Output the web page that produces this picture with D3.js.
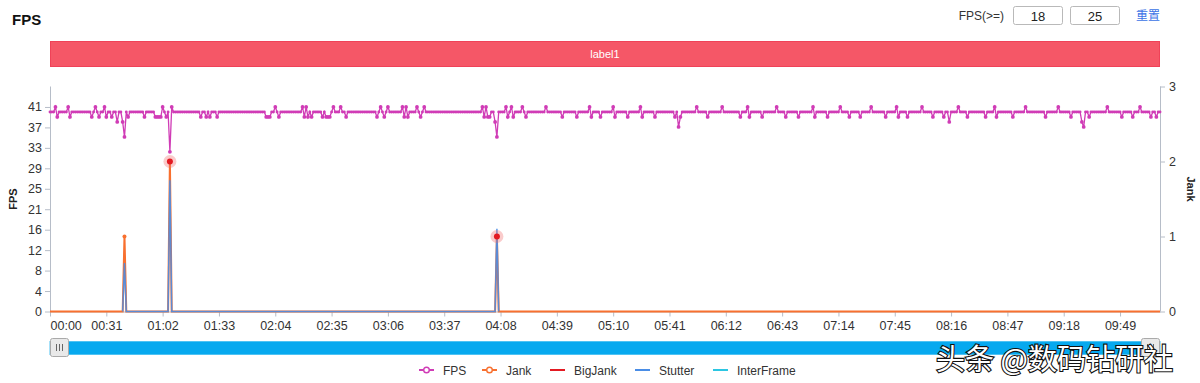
<!DOCTYPE html>
<html><head><meta charset="utf-8">
<script src="https://cdn.jsdelivr.net/npm/d3@7"></script>
<style>
body{margin:0;background:#fff;}
svg{font-family:"Liberation Sans",Arial,"Noto Sans",sans-serif;}
</style></head><body>
<svg id="c" width="1200" height="383"></svg>
<script>
// ---- data (one sample per second) ----
const fps = [
40,40,40,41,39,40,40,40,40,40,41,39,40,40,40,40,40,40,40,40,40,40,40,39,40,41,40,39,40,40,41,39,40,40,
39,40,40,38,40,40,38,35,40,39,40,40,40,40,40,40,40,40,39,40,40,40,40,40,39,39,39,39,41,40,39,40,32,41,
40,40,40,40,40,40,40,40,40,40,40,40,40,40,40,39,40,40,39,40,39,40,40,40,39,40,40,40,40,40,40,40,40,40,
40,40,40,40,40,40,40,40,40,40,40,40,40,40,40,40,40,39,39,39,40,40,41,40,39,40,40,40,40,40,40,40,40,40,
40,40,40,41,39,41,39,40,39,40,40,40,40,40,39,40,39,39,39,40,41,40,40,40,41,40,40,39,40,40,40,40,40,40,
40,40,40,40,40,40,40,40,40,40,39,40,41,40,39,40,41,40,40,40,40,40,40,40,41,39,41,39,40,40,40,40,41,40,
39,40,41,40,40,40,40,40,40,40,40,40,40,40,40,40,40,40,40,40,40,40,40,40,40,40,40,40,40,40,40,40,40,40,
41,39,41,39,39,40,40,38,35,40,40,40,40,41,39,40,41,39,40,40,40,40,41,40,39,40,40,40,40,40,40,40,40,40,
40,41,40,40,40,40,40,40,40,40,39,40,40,40,40,40,40,40,39,40,40,40,40,40,40,41,39,40,40,40,40,39,40,40,
40,40,40,40,41,39,40,40,40,40,40,40,39,40,40,40,40,40,40,41,39,40,40,40,40,40,40,39,40,40,40,40,40,40,
40,40,40,40,39,40,37,39,40,40,40,40,40,40,40,40,41,40,40,40,40,40,39,40,40,40,40,40,40,40,41,40,40,40,
40,40,40,40,40,40,39,40,40,40,41,39,40,40,40,40,40,40,39,40,40,40,40,40,40,40,41,40,40,40,40,39,40,40,
40,40,40,40,39,40,40,40,40,40,40,40,41,39,40,40,40,40,40,40,39,40,40,40,40,40,40,41,40,40,40,40,39,40,
40,40,40,40,39,40,40,40,40,40,41,40,40,40,40,40,40,40,39,40,40,40,40,40,41,39,40,40,40,40,39,40,40,40,
40,40,40,40,41,40,40,40,40,40,39,40,40,40,40,40,39,40,40,38,40,40,40,40,41,40,40,40,40,39,40,40,40,40,
40,40,40,40,40,39,40,40,40,40,41,39,40,40,40,40,40,40,40,40,39,40,40,40,40,40,40,41,40,40,40,40,40,40,
40,40,40,40,39,40,40,40,40,40,40,41,40,40,40,40,40,40,39,40,40,40,40,40,38,37,40,40,39,40,40,40,40,40,
40,40,40,40,41,40,40,40,40,40,40,40,39,40,40,40,40,40,39,40,40,40,41,40,40,40,40,40,39,40,40,39,40,40
];
const jank = [
0,0,0,0,0,0,0,0,0,0,0,0,0,0,0,0,0,0,0,0,0,0,0,0,0,0,0,0,0,0,0,0,0,0,
0,0,0,0,0,0,0,1,0,0,0,0,0,0,0,0,0,0,0,0,0,0,0,0,0,0,0,0,0,0,0,0,2,0,
0,0,0,0,0,0,0,0,0,0,0,0,0,0,0,0,0,0,0,0,0,0,0,0,0,0,0,0,0,0,0,0,0,0,
0,0,0,0,0,0,0,0,0,0,0,0,0,0,0,0,0,0,0,0,0,0,0,0,0,0,0,0,0,0,0,0,0,0,
0,0,0,0,0,0,0,0,0,0,0,0,0,0,0,0,0,0,0,0,0,0,0,0,0,0,0,0,0,0,0,0,0,0,
0,0,0,0,0,0,0,0,0,0,0,0,0,0,0,0,0,0,0,0,0,0,0,0,0,0,0,0,0,0,0,0,0,0,
0,0,0,0,0,0,0,0,0,0,0,0,0,0,0,0,0,0,0,0,0,0,0,0,0,0,0,0,0,0,0,0,0,0,
0,0,0,0,0,0,0,0,1,0,0,0,0,0,0,0,0,0,0,0,0,0,0,0,0,0,0,0,0,0,0,0,0,0,
0,0,0,0,0,0,0,0,0,0,0,0,0,0,0,0,0,0,0,0,0,0,0,0,0,0,0,0,0,0,0,0,0,0,
0,0,0,0,0,0,0,0,0,0,0,0,0,0,0,0,0,0,0,0,0,0,0,0,0,0,0,0,0,0,0,0,0,0,
0,0,0,0,0,0,0,0,0,0,0,0,0,0,0,0,0,0,0,0,0,0,0,0,0,0,0,0,0,0,0,0,0,0,
0,0,0,0,0,0,0,0,0,0,0,0,0,0,0,0,0,0,0,0,0,0,0,0,0,0,0,0,0,0,0,0,0,0,
0,0,0,0,0,0,0,0,0,0,0,0,0,0,0,0,0,0,0,0,0,0,0,0,0,0,0,0,0,0,0,0,0,0,
0,0,0,0,0,0,0,0,0,0,0,0,0,0,0,0,0,0,0,0,0,0,0,0,0,0,0,0,0,0,0,0,0,0,
0,0,0,0,0,0,0,0,0,0,0,0,0,0,0,0,0,0,0,0,0,0,0,0,0,0,0,0,0,0,0,0,0,0,
0,0,0,0,0,0,0,0,0,0,0,0,0,0,0,0,0,0,0,0,0,0,0,0,0,0,0,0,0,0,0,0,0,0,
0,0,0,0,0,0,0,0,0,0,0,0,0,0,0,0,0,0,0,0,0,0,0,0,0,0,0,0,0,0,0,0,0,0,
0,0,0,0,0,0,0,0,0,0,0,0,0,0,0,0,0,0,0,0,0,0,0,0,0,0,0,0,0,0,0,0,0,0
];
// sparse series: [second, value]
const bigJank = [[66,2],[246,1]];
const stutter = [[40,0],[41,9.7],[42,0],[65,0],[66,26.3],[67,0],[245,0],[246,16.6],[247,0]];
const interFrame = [];
const fpsTicks = [0,4.1,8.2,12.3,16.4,20.5,24.6,28.7,32.8,36.9,41];
const jankTicks = [0,1,2,3];
const timeTickStep = 31;
const seriesNames = ["FPS","Jank","BigJank","Stutter","InterFrame"];
const colors = {FPS:"#d03cb6",Jank:"#f8702f",BigJank:"#e31a22",Stutter:"#4a8de6",InterFrame:"#2cc6e2"};
const thresholds = ["18","25"];
const barLabel = "label1";

// ---- layout ----
const svg = d3.select("#c");
const L = 50, R = 1160, T = 86.5, B = 311.5;
const x = d3.scaleLinear().domain([0, fps.length-1]).range([L, R]);
const yL = d3.scaleLinear().domain([0, 45.1]).range([B, T]);
const yR = d3.scaleLinear().domain([0, 3]).range([B, T]);
const fmt = s => String(Math.floor(s/60)).padStart(2,"0")+":"+String(s%60).padStart(2,"0");

// title
svg.append("text").attr("x",12).attr("y",25).attr("font-size",15).attr("font-weight",600).attr("fill","#111").text("FPS");
// controls
svg.append("text").attr("x",1004).attr("y",20).attr("text-anchor","end").attr("font-size",12).attr("fill","#333").text("FPS(>=)");
thresholds.forEach((t,i)=>{
  const bx = 1013 + i*57;
  svg.append("rect").attr("x",bx+0.5).attr("y",6.5).attr("width",49).attr("height",18).attr("rx",2).attr("fill","#fff").attr("stroke","#b9b9b9");
  svg.append("text").attr("x",bx+25).attr("y",20.5).attr("text-anchor","middle").attr("font-size",13).attr("fill","#222").text(t);
});
svg.append("text").attr("x",1148).attr("y",20).attr("text-anchor","middle").attr("font-size",12).attr("fill","#3b73e6").attr("font-family","Noto Sans CJK SC").text("重置");

// label bar
svg.append("rect").attr("x",L+0.5).attr("y",41.5).attr("width",R-L-1).attr("height",25).attr("fill","#f55767").attr("stroke","#ef4258");
svg.append("text").attr("x",(L+R)/2).attr("y",58).attr("text-anchor","middle").attr("font-size",11).attr("fill","#fff").text(barLabel);

// axes
const axCol = "#b6bdc8", txtCol = "#333";
const gL = svg.append("g").attr("transform",`translate(${L},0)`)
  .call(d3.axisLeft(yL).tickValues(fpsTicks).tickFormat(d=>Math.round(d)).tickSize(5).tickSizeOuter(0));
const gR = svg.append("g").attr("transform",`translate(${R},0)`)
  .call(d3.axisRight(yR).tickValues(jankTicks).tickFormat(d3.format("d")).tickSize(5).tickSizeOuter(0));
const gX = svg.append("g").attr("transform",`translate(0,${B})`)
  .call(d3.axisBottom(x).tickValues(d3.range(0, fps.length, timeTickStep)).tickFormat(fmt).tickSize(5).tickSizeOuter(0));
[gL,gR,gX].forEach(g=>{
  g.select(".domain").attr("stroke",axCol);
  g.selectAll(".tick line").attr("stroke",axCol);
  g.selectAll(".tick text").attr("fill",txtCol).attr("font-size",12.5).attr("font-family","Liberation Sans, Arial, sans-serif");
});
gL.select(".domain").attr("d",`M0.5,${T}V${B}`);
gR.select(".domain").attr("d",`M0.5,${T}V${B}`);
gL.selectAll(".tick text").attr("x",-8);
gR.selectAll(".tick text").attr("x",9);
gX.selectAll(".tick text").attr("y",10);
gX.selectAll(".tick text").filter(d=>d===0).attr("text-anchor","start").attr("x",0);
svg.append("text").attr("transform",`translate(17,${(T+B)/2}) rotate(-90)`).attr("text-anchor","middle").attr("font-size",11).attr("font-weight",600).attr("fill","#222").text("FPS");
svg.append("text").attr("transform",`translate(1187,${(T+B)/2 - 10}) rotate(90)`).attr("text-anchor","middle").attr("font-size",11).attr("font-weight",600).attr("fill","#222").text("Jank");

// series
const lineIdx = (sc) => d3.line().x((d,i)=>x(i)).y(d=>sc(d));
const plot = svg.append("g");
// jank (right axis)
plot.append("path").datum(jank).attr("d",lineIdx(yR)).attr("fill","none").attr("stroke",colors.Jank).attr("stroke-width",2);
plot.selectAll(".jd").data(jank.map((v,i)=>[i,v]).filter(d=>d[1]>0)).enter().append("circle")
  .attr("cx",d=>x(d[0])).attr("cy",d=>yR(d[1])).attr("r",2).attr("fill",colors.Jank);
// stutter (left axis)
plot.append("path").datum(stutter).attr("d",d3.line().x(d=>x(d[0])).y(d=>yL(d[1]))).attr("fill","none").attr("stroke",colors.Stutter).attr("stroke-width",1.5).attr("opacity",0.9);
// big jank markers
bigJank.forEach(d=>{
  plot.append("circle").attr("cx",x(d[0])).attr("cy",yR(d[1])).attr("r",6.5).attr("fill","#f06a6a").attr("opacity",0.35);
  plot.append("circle").attr("cx",x(d[0])).attr("cy",yR(d[1])).attr("r",3).attr("fill",colors.BigJank);
});
// fps (left axis)
plot.append("path").datum(fps).attr("d",lineIdx(yL)).attr("fill","none").attr("stroke",colors.FPS).attr("stroke-width",1.3);
plot.selectAll(".fd").data(fps).enter().append("circle")
  .attr("cx",(d,i)=>x(i)).attr("cy",d=>yL(d)).attr("r",d=>d===40?1.45:1.9).attr("fill",colors.FPS);

// slider
svg.append("rect").attr("x",L).attr("y",341.5).attr("width",R-L).attr("height",13).attr("fill","#07a9ef").attr("stroke","#4fc3f3");
[[L,0],[R-19,1]].forEach(([hx])=>{
  svg.append("rect").attr("x",hx+0.5).attr("y",338.5).attr("width",18).attr("height",18).attr("rx",2).attr("fill","#e9e9e9").attr("stroke","#aaa");
  [6,9,12].forEach(o=>svg.append("line").attr("x1",hx+o+0.5).attr("x2",hx+o+0.5).attr("y1",344).attr("y2",351).attr("stroke","#666"));
});

// legend
const legX = [419,482,550,635,713];
seriesNames.forEach((n,i)=>{
  const lx = legX[i], ly = 370;
  svg.append("line").attr("x1",lx).attr("x2",lx+15).attr("y1",ly).attr("y2",ly).attr("stroke",colors[n]).attr("stroke-width",2);
  if(i<2) svg.append("circle").attr("cx",lx+7.5).attr("cy",ly).attr("r",2.8).attr("fill","#fff").attr("stroke",colors[n]).attr("stroke-width",1.4);
  svg.append("text").attr("x",lx+24).attr("y",ly+4.5).attr("font-size",12).attr("fill","#333").text(n);
});

// watermark
svg.append("text").attr("x",936).attr("y",370).attr("font-size",29).attr("font-family","Noto Sans CJK SC")
  .attr("fill","#fff").attr("stroke","#111").attr("stroke-width",2.2).attr("paint-order","stroke").text("头条 @数码钻研社");
</script>
</body></html>
